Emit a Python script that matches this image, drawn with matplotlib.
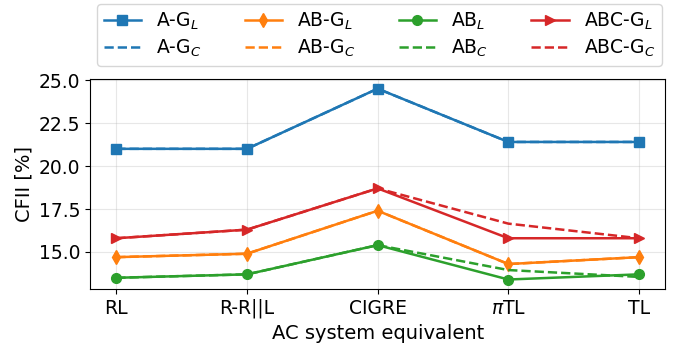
import matplotlib
matplotlib.use("Agg")
import matplotlib.pyplot as plt

categories = ["RL", "R-R||L", "CIGRE", r"$\pi$TL", "TL"]
ag_l = [21.0, 21.0, 24.5, 21.4, 21.4]
ag_c = [21.0, 21.0, 24.5, 21.4, 21.4]
abg_l = [14.7, 14.9, 17.4, 14.3, 14.7]
abg_c = [14.7, 14.9, 17.4, 14.3, 14.7]
ab_l = [13.5, 13.7, 15.4, 13.4, 13.7]
ab_c = [13.5, 13.7, 15.4, 13.95, 13.55]
abcg_l = [15.8, 16.3, 18.7, 15.8, 15.8]
abcg_c = [15.8, 16.3, 18.7, 16.65, 15.8]

plt.rcParams["font.size"] = 14
fig, ax = plt.subplots(figsize=(6.78, 3.47), dpi=100)
x = list(range(len(categories)))

series = [
    (ag_l, ag_c, "A-G", "s", "#1f77b4"),
    (abg_l, abg_c, "AB-G", "d", "#ff7f0e"),
    (ab_l, ab_c, "AB", "o", "#2ca02c"),
    (abcg_l, abcg_c, "ABC-G", ">", "#d62728"),
]
for yl, yc, name, mk, col in series:
    ax.plot(x, yl, color=col, marker=mk, markersize=7, lw=1.8, label=name + r"$_L$")
    ax.plot(x, yc, color=col, ls="--", lw=1.8, label=name + r"$_C$")

ax.set_xticks(x)
ax.set_xticklabels(categories)
ax.set_yticks([15.0, 17.5, 20.0, 22.5, 25.0])
ax.tick_params(labelsize=13.5)
ax.grid(True, alpha=0.3)
ax.set_xlabel("AC system equivalent")
ax.set_ylabel("CFII [%]")
ax.legend(ncol=4, loc="lower center", bbox_to_anchor=(0.503, 1.02), fontsize=13.5,
          labelspacing=0.3, columnspacing=2.3, borderpad=0.35)
fig.subplots_adjust(left=0.133, right=0.981, top=0.772, bottom=0.167)
fig.savefig("out.png", dpi=100)
